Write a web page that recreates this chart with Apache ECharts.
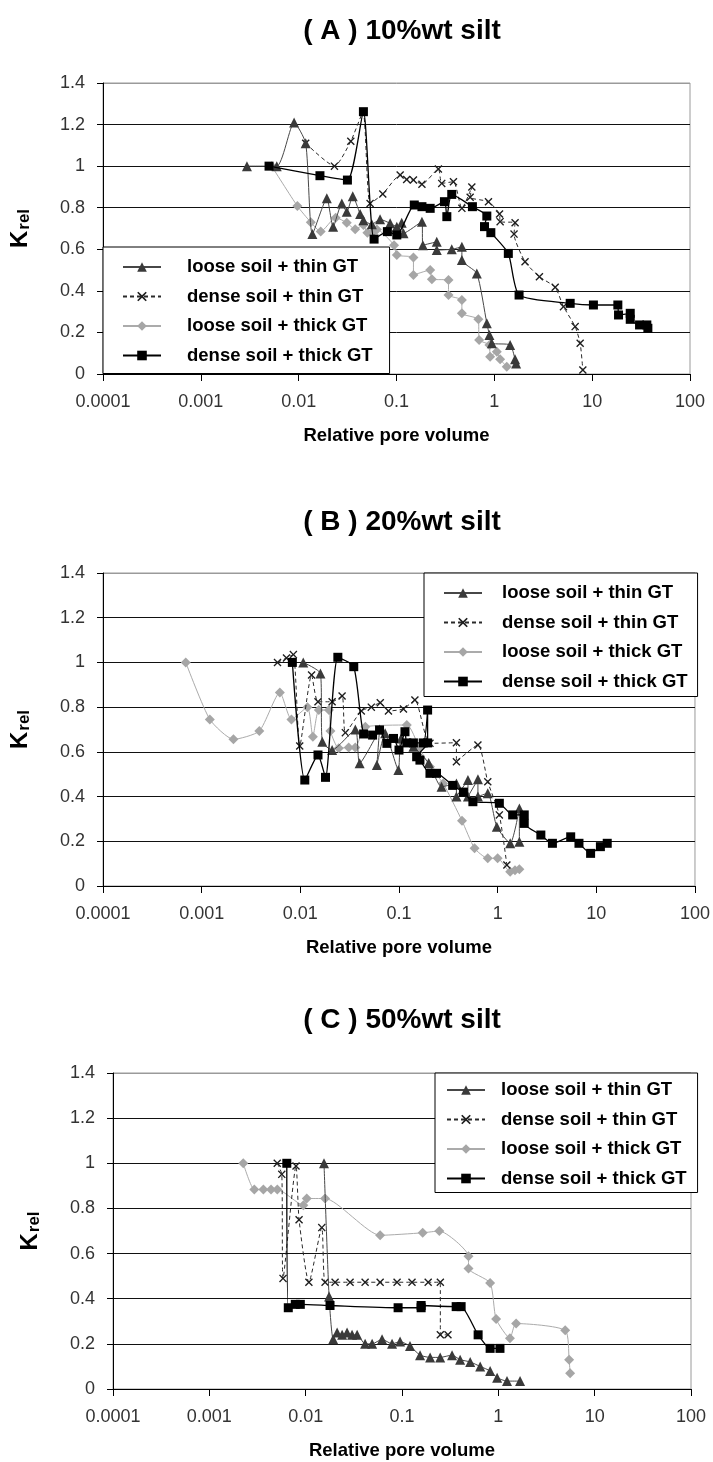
<!DOCTYPE html>
<html>
<head>
<meta charset="utf-8">
<script src="https://cdn.jsdelivr.net/npm/echarts@6/dist/echarts.min.js"></script>
<style>
  html, body { margin: 0; padding: 0; background: #fff; }
  #chart { width: 713px; height: 1462px; }
</style>
</head>
<body>
<div id="chart"></div>
<script>
// Relative permeability (K_rel) against relative pore volume for three silt contents.
const seriesNames = ['loose soil + thin GT', 'dense soil + thin GT', 'loose soil + thick GT', 'dense soil + thick GT'];
const panelTitles = ['( A ) 10%wt silt', '( B ) 20%wt silt', '( C ) 50%wt silt'];
const xAxisTitle = 'Relative pore volume';
const xTickValues = [0.0001, 0.001, 0.01, 0.1, 1, 10, 100];
const yTickValues = [0, 0.2, 0.4, 0.6, 0.8, 1, 1.2, 1.4];

// ---- (A) 10 %wt silt: [relative pore volume, K_rel]
const aLooseThin = [[0.00296,1.0],[0.00597,1.0],[0.00898,1.21],[0.0118,1.11],[0.0138,0.673],[0.0194,0.845],[0.0225,0.708],[0.0276,0.82],[0.031,0.78],[0.0357,0.855],[0.0425,0.77],[0.0459,0.74],[0.0559,0.72],[0.0679,0.744],[0.0861,0.725],[0.1007,0.709],[0.113,0.728],[0.118,0.677],[0.182,0.733],[0.186,0.62],[0.258,0.636],[0.258,0.596],[0.367,0.60],[0.466,0.612],[0.466,0.548],[0.662,0.484],[0.838,0.244],[0.891,0.188],[0.942,0.148],[1.45,0.14],[1.63,0.071],[1.67,0.051]];
const aDenseThin = [[0.0118,1.11],[0.0232,1.0],[0.0341,1.12],[0.0455,1.26],[0.0537,0.82],[0.0724,0.866],[0.109,0.957],[0.127,0.936],[0.149,0.933],[0.182,0.913],[0.268,0.986],[0.29,0.917],[0.382,0.925],[0.466,0.797],[0.589,0.90],[0.566,0.85],[0.871,0.829],[1.13,0.77],[1.146,0.733],[1.63,0.728],[1.59,0.673],[2.06,0.54],[2.89,0.468],[4.19,0.417],[5.09,0.324],[6.70,0.228],[7.54,0.148],[8.03,0.019]];
const aLooseThick = [[0.0053,1.0],[0.0097,0.808],[0.0133,0.73],[0.0168,0.685],[0.0239,0.752],[0.031,0.728],[0.0378,0.696],[0.0459,0.717],[0.0504,0.68],[0.0581,0.685],[0.063,0.695],[0.0944,0.62],[0.1007,0.572],[0.149,0.56],[0.149,0.476],[0.221,0.50],[0.23,0.456],[0.34,0.452],[0.34,0.38],[0.466,0.356],[0.466,0.292],[0.687,0.263],[0.699,0.164],[0.891,0.14],[0.906,0.083],[1.06,0.107],[1.146,0.071],[1.34,0.035]];
const aDenseThick = [[0.00498,1.0],[0.0165,0.954],[0.0315,0.933],[0.0459,1.262],[0.059,0.649],[0.0807,0.685],[0.1007,0.669],[0.152,0.813],[0.182,0.805],[0.221,0.797],[0.309,0.829],[0.327,0.757],[0.367,0.864],[0.597,0.805],[0.838,0.76],[0.793,0.709],[0.921,0.68],[1.39,0.58],[1.79,0.38],[5.96,0.34],[10.3,0.332],[18.3,0.332],[18.6,0.284],[24.5,0.292],[24.5,0.263],[30.5,0.236],[36.2,0.236],[37.1,0.22]];

// ---- (B) 20 %wt silt
const bLooseThin = [[0.0107,1.0],[0.016,0.95],[0.0167,0.645],[0.021,0.608],[0.0361,0.70],[0.0399,0.549],[0.0635,0.70],[0.0597,0.541],[0.0724,0.683],[0.0986,0.519],[0.105,0.66],[0.14,0.623],[0.2,0.55],[0.27,0.444],[0.382,0.459],[0.382,0.40],[0.5,0.474],[0.5,0.40],[0.631,0.477],[0.631,0.40],[0.794,0.415],[0.98,0.265],[1.34,0.191],[1.66,0.347],[1.66,0.198]];
const bDenseThin = [[0.00587,1.0],[0.00724,1.02],[0.0085,1.035],[0.00986,0.626],[0.013,0.944],[0.0151,0.824],[0.021,0.824],[0.0265,0.85],[0.0286,0.686],[0.0415,0.783],[0.0524,0.80],[0.0646,0.82],[0.0782,0.783],[0.111,0.792],[0.145,0.832],[0.206,0.638],[0.382,0.641],[0.382,0.556],[0.631,0.631],[0.794,0.466],[1.04,0.318],[1.24,0.094]];
const bLooseThick = [[0.00069,1.0],[0.00121,0.745],[0.0021,0.656],[0.00384,0.693],[0.0062,0.866],[0.00813,0.745],[0.0118,0.80],[0.0134,0.668],[0.0154,0.787],[0.0195,0.787],[0.0202,0.693],[0.0245,0.616],[0.0309,0.62],[0.0361,0.62],[0.0456,0.712],[0.12,0.72],[0.16,0.62],[0.206,0.533],[0.28,0.459],[0.435,0.292],[0.583,0.169],[0.794,0.124],[1.0,0.124],[1.34,0.064],[1.5,0.07],[1.66,0.075]];
const bDenseThick = [[0.0083,1.0],[0.0111,0.474],[0.0151,0.586],[0.018,0.486],[0.024,1.023],[0.0348,0.981],[0.0438,0.68],[0.054,0.675],[0.0635,0.698],[0.0754,0.638],[0.088,0.66],[0.1,0.608],[0.115,0.69],[0.12,0.64],[0.14,0.64],[0.176,0.64],[0.195,0.787],[0.195,0.64],[0.151,0.578],[0.163,0.563],[0.206,0.504],[0.24,0.504],[0.35,0.45],[0.45,0.42],[0.561,0.377],[1.04,0.37],[1.42,0.318],[1.86,0.318],[1.86,0.28],[2.74,0.228],[3.59,0.191],[5.5,0.22],[6.67,0.191],[8.75,0.146],[11.0,0.176],[12.9,0.191]];

// ---- (C) 50 %wt silt
const cLooseThin = [[0.0155,1.0],[0.0175,0.41],[0.0193,0.22],[0.0212,0.25],[0.0239,0.24],[0.0269,0.25],[0.0303,0.24],[0.0342,0.24],[0.0414,0.2],[0.049,0.2],[0.0621,0.22],[0.0789,0.2],[0.0955,0.21],[0.121,0.19],[0.154,0.15],[0.196,0.14],[0.249,0.14],[0.331,0.15],[0.401,0.13],[0.51,0.12],[0.648,0.1],[0.822,0.08],[0.972,0.05],[1.23,0.035],[1.68,0.035]];
const cDenseThin = [[0.00507,1.0],[0.00565,0.951],[0.00582,0.49],[0.00794,0.988],[0.00854,0.75],[0.0108,0.473],[0.0147,0.715],[0.0159,0.473],[0.0202,0.473],[0.0289,0.473],[0.0414,0.473],[0.0593,0.473],[0.0889,0.473],[0.127,0.473],[0.187,0.473],[0.25,0.473],[0.25,0.24],[0.30,0.24]];
const cLooseThick = [[0.00225,1.0],[0.00293,0.884],[0.00364,0.884],[0.00437,0.884],[0.00508,0.884],[0.00946,0.814],[0.01026,0.844],[0.0159,0.844],[0.0593,0.681],[0.164,0.692],[0.244,0.70],[0.49,0.588],[0.49,0.534],[0.822,0.47],[0.948,0.31],[1.32,0.225],[1.53,0.29],[4.94,0.26],[5.43,0.13],[5.56,0.07]];
const cDenseThick = [[0.00637,1.0],[0.0066,0.36],[0.0078,0.375],[0.0088,0.375],[0.0179,0.37],[0.0911,0.36],[0.158,0.36],[0.158,0.37],[0.365,0.365],[0.411,0.365],[0.617,0.24],[0.822,0.18],[1.04,0.18]];

const panelData = [
  [aLooseThin, aDenseThin, aLooseThick, aDenseThick],
  [bLooseThin, bDenseThin, bLooseThick, bDenseThick],
  [cLooseThin, cDenseThin, cLooseThick, cDenseThick]
];

// ---- layout and styling
const FONT = '"Liberation Sans", Arial, Helvetica, sans-serif';
const CROSS = 'path://M0,1.2L1.2,0L5,3.8L8.8,0L10,1.2L6.2,5L10,8.8L8.8,10L5,6.2L1.2,10L0,8.8L3.8,5Z';

const panels = [
  { grid: { left: 103, top: 83, width: 587, height: 291 }, titleTop: 12,
    legend: { left: 103, top: 247, padding: [10, 17, 8, 19], textGap: 21 } },
  { grid: { left: 101, top: 573, width: 596, height: 313 }, titleTop: 503,
    legend: { left: 424, top: 573, padding: [10, 10, 5, 19], textGap: 15 } },
  { grid: { left: 113, top: 1073, width: 578, height: 316 }, titleTop: 1001,
    legend: { left: 435, top: 1073, padding: [7, 11, 4, 11], textGap: 11 } }
];

const seriesStyles = [
  { symbol: 'triangle', symbolSize: 10, color: '#3a3a3a', line: { color: '#474747', width: 1, type: 'solid' }, z: 4 },
  { symbol: CROSS, symbolSize: 8, color: '#1e1e1e', line: { color: '#2a2a2a', width: 1, type: [4, 3] }, z: 3 },
  { symbol: 'diamond', symbolSize: 10, color: '#a6a6a6', line: { color: '#ababab', width: 1, type: 'solid' }, z: 2 },
  { symbol: 'rect', symbolSize: 9, color: '#000000', line: { color: '#000000', width: 1.3, type: 'solid' }, z: 5 }
];

const gridLineColors = yTickValues.map((v, i) => (i === yTickValues.length - 1 ? '#9a9a9a' : '#111'));

const option = {
  animation: false,
  backgroundColor: '#ffffff',
  textStyle: { fontFamily: FONT },
  title: panels.map((p, i) => ({
    text: panelTitles[i],
    left: 397,
    top: p.titleTop,
    textAlign: 'center',
    textStyle: { fontFamily: FONT, fontSize: 28, fontWeight: 'bold', color: '#000' }
  })),
  grid: panels.map(p => Object.assign({ show: true, borderColor: '#9a9a9a', borderWidth: 1, backgroundColor: 'transparent' }, p.grid)),
  legend: panels.map(p => ({
    data: seriesNames,
    orient: 'vertical',
    left: p.legend.left,
    top: p.legend.top,
    padding: p.legend.padding,
    itemGap: 9.5,
    itemWidth: 38,
    itemHeight: 12,
    selectedMode: false,
    backgroundColor: '#ffffff',
    borderColor: '#000000',
    borderWidth: 1,
    borderRadius: 0,
    textStyle: { fontFamily: FONT, fontSize: 18.5, fontWeight: 'bold', color: '#000', lineHeight: 20,
                 padding: [0, 0, 0, p.legend.textGap] }
  })),
  xAxis: panels.map((p, i) => ({
    type: 'log',
    logBase: 10,
    gridIndex: i,
    min: xTickValues[0],
    max: xTickValues[xTickValues.length - 1],
    name: xAxisTitle,
    nameLocation: 'middle',
    nameGap: 52,
    nameTextStyle: { fontFamily: FONT, fontSize: 18.5, fontWeight: 'bold', color: '#000' },
    axisLine: { show: true, onZero: false, lineStyle: { color: '#000', width: 1 } },
    axisTick: { show: true, inside: false, length: 7, lineStyle: { color: '#000' } },
    splitLine: { show: false },
    minorTick: { show: false },
    axisLabel: {
      margin: 19, fontFamily: FONT, fontSize: 18, color: '#333',
      formatter: v => String(+Number(v).toPrecision(6))
    }
  })),
  yAxis: panels.map((p, i) => ({
    type: 'value',
    gridIndex: i,
    min: yTickValues[0],
    max: yTickValues[yTickValues.length - 1],
    interval: 0.2,
    name: '{k|K}{s|rel}',
    nameLocation: 'middle',
    nameRotate: 90,
    nameGap: 70,
    nameTextStyle: {
      rich: {
        k: { fontFamily: FONT, fontSize: 24, fontWeight: 'bold', color: '#000' },
        s: { fontFamily: FONT, fontSize: 17, fontWeight: 'bold', color: '#000', verticalAlign: 'bottom', padding: [9, 0, 0, 1] }
      }
    },
    axisLine: { show: true, lineStyle: { color: '#000', width: 1 } },
    axisTick: { show: true, inside: false, length: 6, lineStyle: { color: '#000' } },
    splitLine: { show: true, lineStyle: { color: gridLineColors, width: 1 } },
    axisLabel: {
      margin: 18, fontFamily: FONT, fontSize: 18, color: '#333',
      formatter: v => String(+Number(v).toFixed(1))
    }
  })),
  series: []
};

panelData.forEach((group, pi) => {
  group.forEach((data, si) => {
    const st = seriesStyles[si];
    option.series.push({
      name: seriesNames[si],
      type: 'line',
      xAxisIndex: pi,
      yAxisIndex: pi,
      data: data,
      z: st.z,
      symbol: st.symbol,
      symbolSize: st.symbolSize,
      showAllSymbol: true,
      smooth: 0.2,
      itemStyle: { color: st.color, borderWidth: 0 },
      lineStyle: st.line,
      emphasis: { disabled: true }
    });
  });
});

const chart = echarts.init(document.getElementById('chart'), null, { renderer: 'canvas' });
chart.setOption(option);
</script>
</body>
</html>
